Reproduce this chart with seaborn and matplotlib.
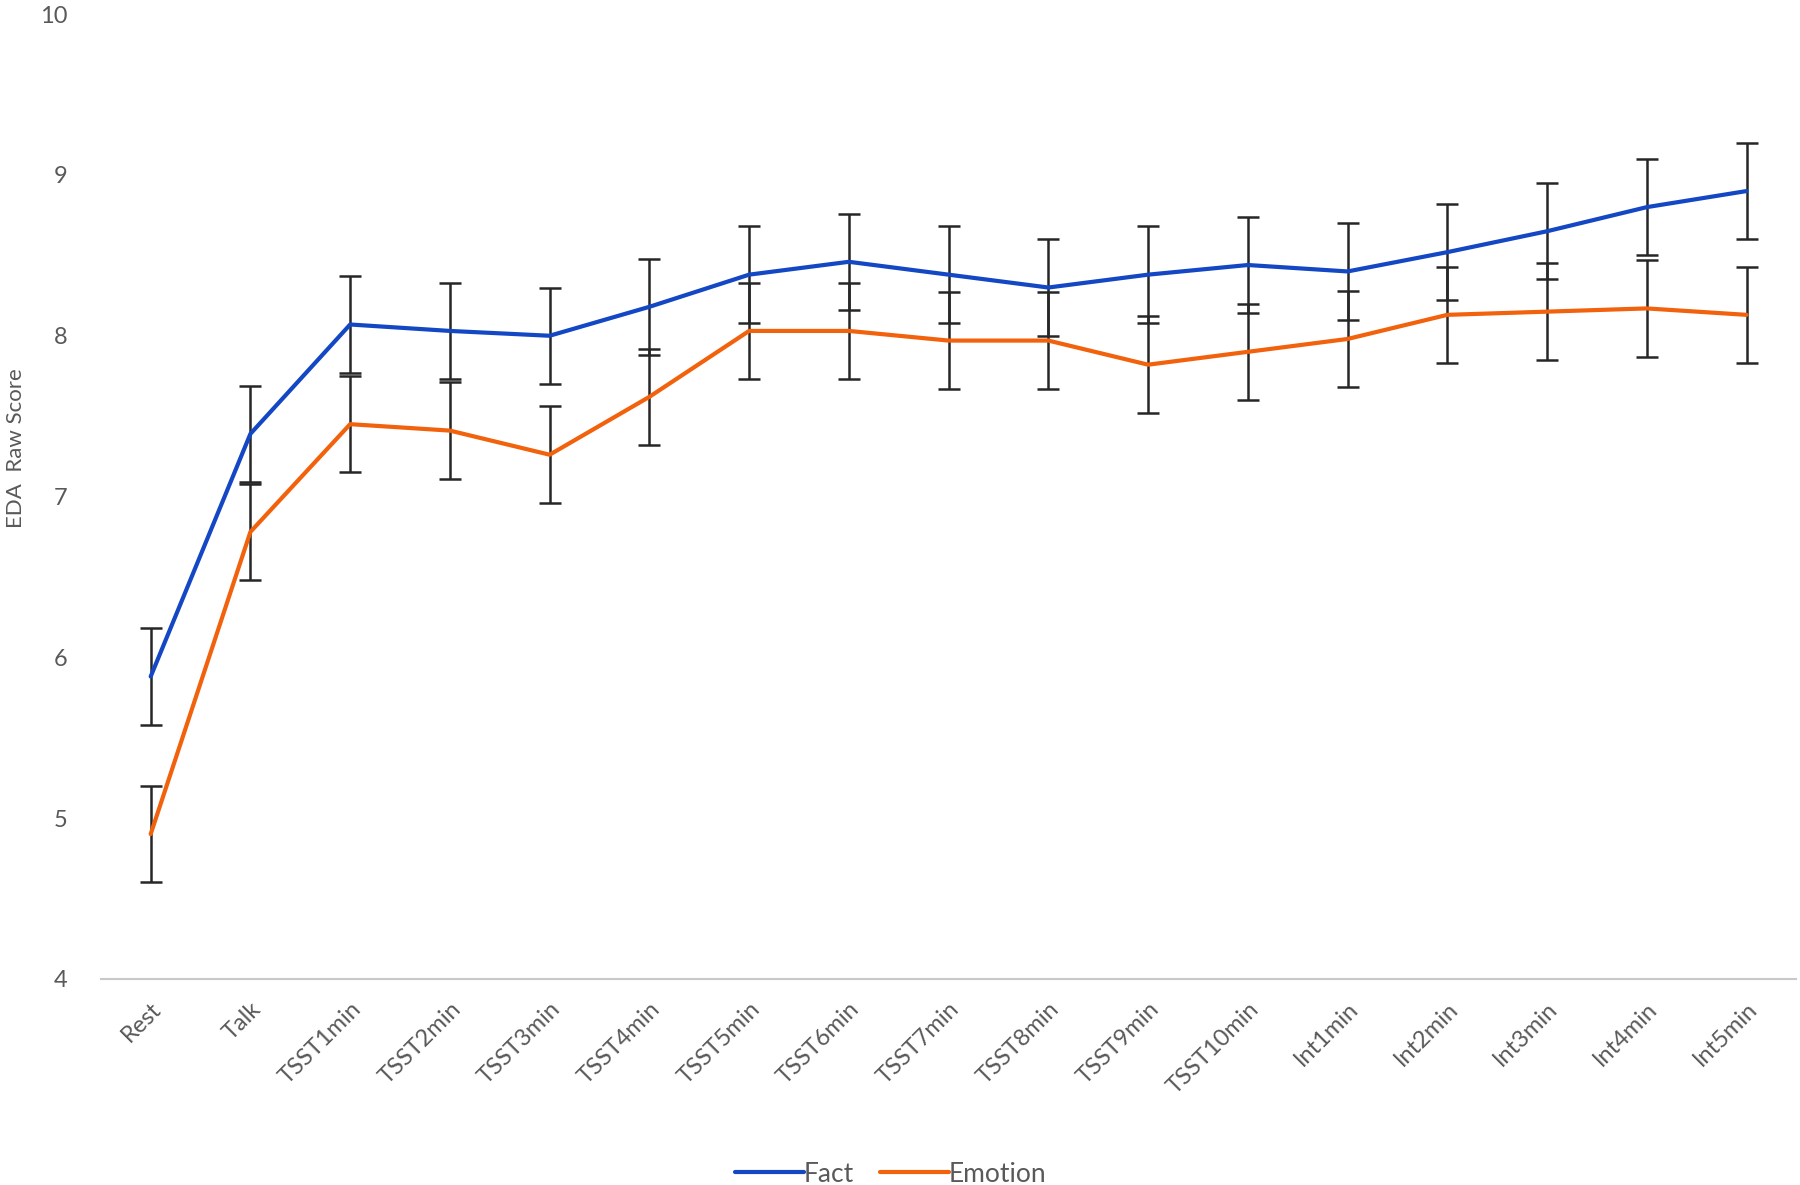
import pandas as pd
import matplotlib.pyplot as plt
import seaborn as sns

# Time points
phases = ["Rest", "Talk", "TSST1min", "TSST2min", "TSST3min", "TSST4min",
          "TSST5min", "TSST6min", "TSST7min", "TSST8min", "TSST9min",
          "TSST10min", "Int1min", "Int2min", "Int3min", "Int4min", "Int5min"]

# Mean EDA raw scores
fact = [5.88, 7.39, 8.07, 8.03, 8.00, 8.18, 8.38, 8.46, 8.38, 8.30,
        8.38, 8.44, 8.40, 8.52, 8.65, 8.80, 8.90]
emotion = [4.90, 6.78, 7.45, 7.41, 7.26, 7.62, 8.03, 8.03, 7.97, 7.97,
           7.82, 7.90, 7.98, 8.13, 8.15, 8.17, 8.13]

# Error bar half widths
fact_err = [0.30] * 17
emotion_err = [0.30] * 17

series_names = ["Fact", "Emotion"]
colors = {"Fact": "#1347C4", "Emotion": "#F2610C"}

df = pd.DataFrame({
    "phase": phases * 2,
    "x": list(range(len(phases))) * 2,
    "score": fact + emotion,
    "err": fact_err + emotion_err,
    "group": ["Fact"] * len(phases) + ["Emotion"] * len(phases),
})

sns.set_style("white")
plt.rcParams["font.family"] = ["Lato", "DejaVu Sans"]
text_color = "#595959"

fig = plt.figure(figsize=(18, 11.85), dpi=100)
ax = fig.add_axes([0.056, 0.174, 0.942, 0.814])

# error bars first so lines sit on top
for name in series_names:
    sub = df[df["group"] == name]
    ax.errorbar(sub["x"], sub["score"], yerr=sub["err"], fmt="none",
                ecolor="#262626", elinewidth=1.8, capsize=8, capthick=1.8,
                zorder=2)

sns.lineplot(data=df, x="x", y="score", hue="group", hue_order=series_names,
             palette=colors, linewidth=3, ax=ax, zorder=3, legend=True)

ax.set_xlim(-0.5, len(phases) - 0.5)
ax.set_ylim(4, 10)
ax.set_yticks(range(4, 11))
ax.set_xticks(range(len(phases)))
ax.set_xticklabels(phases, rotation=45, ha="right", rotation_mode="anchor")
ax.tick_params(axis="both", length=0, labelsize=17, labelcolor=text_color)
ax.tick_params(axis="y", pad=24)
ax.tick_params(axis="x", pad=14)

for s in ["top", "right", "left"]:
    ax.spines[s].set_visible(False)
ax.spines["bottom"].set_color("#C8C8C8")
ax.spines["bottom"].set_linewidth(1.5)

ax.set_xlabel("")
ax.set_ylabel("EDA  Raw Score", fontsize=16, color=text_color)
ax.yaxis.set_label_coords(-0.044, 0.55)

handles, labels = ax.get_legend_handles_labels()
leg = ax.legend(handles, labels, loc="lower center", bbox_to_anchor=(0.466, -0.24),
                ncol=2, frameon=False, fontsize=19, handlelength=2.6,
                handletextpad=0.0, columnspacing=1.0)
for t in leg.get_texts():
    t.set_color(text_color)

fig.savefig("out.png", dpi=100)
